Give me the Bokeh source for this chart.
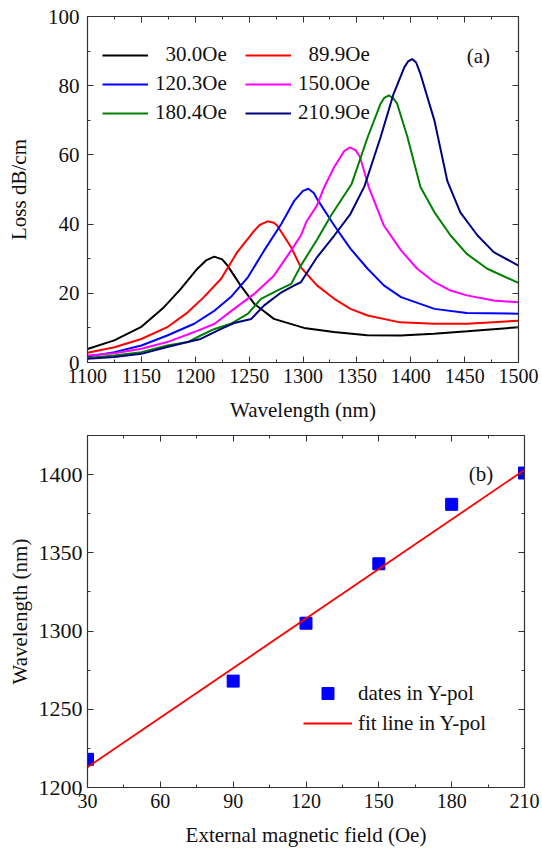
from bokeh.plotting import figure
from bokeh.models import (FixedTicker, LinearAxis, Legend, LegendItem, Label,
                          Range1d)
from bokeh.layouts import column
from bokeh.embed import file_html
from bokeh.resources import INLINE

FONT = "Liberation Serif"
AXC = "#333333"
TXT = "#111111"

# ---------------- Panel (a): loss spectra ----------------
wl_300 = [1100, 1124.8, 1149.5, 1171, 1186.6, 1202, 1210, 1217.6, 1225, 1230, 1242,
          1254.7, 1273, 1301, 1328.6, 1359.6, 1390.5, 1421.5, 1452.4, 1500]
loss_300 = [3.9, 6.4, 10.2, 16.0, 21.3, 27.1, 29.5, 30.6, 29.8, 28.0, 22.3,
            17.0, 12.6, 10.0, 8.8, 7.9, 7.8, 8.3, 9.0, 10.2]

wl_899 = [1100, 1125, 1150, 1174, 1193, 1208, 1224, 1239, 1255, 1260, 1267, 1273,
          1276, 1289, 1298, 1313, 1329, 1344, 1360, 1390, 1422, 1452, 1500]
loss_899 = [2.8, 4.4, 6.8, 10.2, 14.5, 18.9, 24.2, 31.9, 38.2, 39.8, 40.8, 40.4,
            39.6, 33.3, 27.5, 22.3, 18.4, 15.5, 13.6, 11.6, 11.2, 11.2, 12.1]

wl_1203 = [1100, 1125, 1150, 1174, 1199, 1218, 1233, 1249, 1264, 1280, 1292, 1300,
           1305, 1310, 1313, 1329, 1344, 1360, 1375, 1391, 1422, 1452, 1500]
loss_1203 = [1.7, 3.0, 4.9, 7.8, 11.2, 15.0, 18.9, 24.7, 32.4, 40.1, 46.8, 49.6,
             50.2, 49.0, 47.3, 39.6, 32.9, 27.1, 22.3, 18.9, 15.5, 14.3, 14.1]

wl_1500 = [1100, 1125, 1150, 1174, 1199, 1218, 1236, 1255, 1273, 1289, 1298, 1303,
           1313, 1319, 1329, 1338, 1343.5, 1349, 1353, 1361, 1375, 1391, 1406, 1422,
           1437, 1452, 1477, 1500]
loss_1500 = [2.0, 2.7, 4.0, 5.9, 8.8, 11.2, 15.5, 19.9, 25.1, 32.4, 36.7, 40.6,
             45.4, 50.2, 56.5, 61.0, 62.2, 61.3, 59.3, 50.7, 39.6, 32.4, 27.1, 23.2,
             20.8, 19.4, 17.9, 17.4]

wl_1804 = [1100, 1125, 1150, 1174, 1193, 1205, 1218, 1233, 1249, 1261, 1276, 1289,
           1298, 1313, 1326, 1345, 1360, 1372, 1375.5, 1379.7, 1384, 1387.4, 1397,
           1409, 1422, 1437, 1452, 1471, 1500]
loss_1804 = [1.3, 2.0, 3.0, 4.9, 5.9, 7.8, 9.7, 11.2, 14.1, 18.4, 20.8, 22.7,
             28.0, 35.5, 42.5, 51.5, 65.1, 74.8, 76.5, 77.2, 76.3, 74.8, 65.1,
             50.7, 43.4, 36.7, 31.4, 27.1, 23.0]

wl_2109 = [1100, 1125, 1150, 1174, 1193, 1205, 1224, 1236, 1252, 1264, 1280, 1292,
           1298, 1313, 1329, 1344, 1357, 1372, 1384, 1394, 1397.5, 1401.3, 1405,
           1409, 1422, 1434, 1446, 1462, 1477, 1500]
loss_2109 = [1.1, 1.6, 2.5, 4.5, 5.9, 6.8, 9.7, 11.4, 12.6, 16.5, 20.3, 22.3,
             23.2, 30.4, 36.7, 42.9, 50.9, 65.1, 77.6, 85.3, 87.0, 87.7, 86.7,
             83.4, 69.9, 52.4, 43.4, 36.7, 31.9, 28.0]

series_labels = ["\u200730.0Oe", "\u200789.9Oe", "120.3Oe", "150.0Oe", "180.4Oe", "210.9Oe"]
series_colors = ["#000000", "#ff0000", "#0000ff", "#ff00ff", "#008000", "#000080"]
series_x = [wl_300, wl_899, wl_1203, wl_1500, wl_1804, wl_2109]
series_y = [loss_300, loss_899, loss_1203, loss_1500, loss_1804, loss_2109]

a_xticks = [1100, 1150, 1200, 1250, 1300, 1350, 1400, 1450, 1500]
a_xminor = [1125, 1175, 1225, 1275, 1325, 1375, 1425, 1475]
a_yticks = [0, 20, 40, 60, 80, 100]
a_yminor = [10, 30, 50, 70, 90]

# ---------------- Panel (b): resonance wavelength vs field ----------------
field = [30, 90, 120, 150, 180, 210]
peak_wl = [1218, 1268, 1305, 1343, 1381, 1401]
fit_field = [30, 210]
fit_wl = [1213, 1403]

b_xticks = [30, 60, 90, 120, 150, 180, 210]
b_xminor = [45, 75, 105, 135, 165, 195]
b_yticks = [1200, 1250, 1300, 1350, 1400]
b_yminor = [1225, 1275, 1325, 1375, 1425]


def style_axis(ax, tick_fs="21px", label_standoff=6, axis_label_standoff=10):
    ax.major_tick_in = 6
    ax.major_tick_out = 0
    ax.minor_tick_in = 3
    ax.minor_tick_out = 0
    ax.axis_line_color = AXC
    ax.major_tick_line_color = AXC
    ax.minor_tick_line_color = AXC
    ax.axis_line_width = 1.2
    ax.major_label_text_font = FONT
    ax.major_label_text_font_size = tick_fs
    ax.major_label_text_color = TXT
    ax.major_label_standoff = label_standoff
    ax.axis_label_text_font = FONT
    ax.axis_label_text_font_size = "21px"
    ax.axis_label_text_font_style = "normal"
    ax.axis_label_text_color = TXT
    ax.axis_label_standoff = axis_label_standoff


def mirror_axis(p, side, ticks, minor):
    ax = LinearAxis(ticker=FixedTicker(ticks=ticks, minor_ticks=minor))
    style_axis(ax)
    ax.major_label_text_font_size = "1px"
    ax.major_label_text_color = None
    ax.major_label_standoff = 0
    p.add_layout(ax, side)


def base_fig(xr, yr, fw, fh, left, right, top, bottom):
    p = figure(frame_width=fw, frame_height=fh, x_range=xr, y_range=yr,
               output_backend="svg", toolbar_location=None,
               min_border_left=left, min_border_right=right,
               min_border_top=top, min_border_bottom=bottom)
    p.xgrid.visible = False
    p.ygrid.visible = False
    p.outline_line_color = None
    p.background_fill_color = "white"
    p.border_fill_color = "white"
    return p


# ---- panel (a)
p1 = base_fig(Range1d(1100, 1500), Range1d(0, 100), 431, 346, 87, 24, 16, 65)
p1.xaxis.ticker = FixedTicker(ticks=a_xticks, minor_ticks=a_xminor)
p1.yaxis.ticker = FixedTicker(ticks=a_yticks, minor_ticks=a_yminor)
p1.xaxis.axis_label = "Wavelength (nm)"
p1.yaxis.axis_label = "Loss dB/cm"
style_axis(p1.xaxis[0], tick_fs="20px", label_standoff=6, axis_label_standoff=12)
style_axis(p1.yaxis[0], label_standoff=8, axis_label_standoff=14)
mirror_axis(p1, "above", a_xticks, a_xminor)
mirror_axis(p1, "right", a_yticks, a_yminor)

renderers = []
for xs, ys, c in zip(series_x, series_y, series_colors):
    renderers.append(p1.line(xs, ys, line_color=c, line_width=2))


def make_legend(items, loc, spacing, glyph_width, glyph_height, standoff):
    lg = Legend(items=items, location=loc, orientation="vertical",
                label_text_font=FONT, label_text_font_size="21px",
                label_text_color=TXT, glyph_width=glyph_width, glyph_height=glyph_height,
                label_height=20, spacing=spacing, padding=0, margin=0,
                label_standoff=standoff, border_line_color=None,
                background_fill_alpha=0)
    return lg


leg_a1 = make_legend([LegendItem(label=series_labels[i], renderers=[renderers[i]]) for i in (0, 2, 4)],
                     (15, 237), 4, 46, 20, 7)
leg_a2 = make_legend([LegendItem(label=series_labels[i], renderers=[renderers[i]]) for i in (1, 3, 5)],
                     (158, 237), 4, 46, 20, 7)
p1.add_layout(leg_a1)
p1.add_layout(leg_a2)
p1.add_layout(Label(x=1452, y=88.7, text="(a)", text_font=FONT, text_font_size="21px",
                    text_color=TXT, text_baseline="middle", text_align="left"))

# ---- panel (b)
p2 = base_fig(Range1d(30, 210), Range1d(1200, 1425), 437, 352, 87, 18, 8, 67)
p2.xaxis.ticker = FixedTicker(ticks=b_xticks, minor_ticks=b_xminor)
p2.yaxis.ticker = FixedTicker(ticks=b_yticks, minor_ticks=b_yminor)
p2.xaxis.axis_label = "External magnetic field (Oe)"
p2.yaxis.axis_label = "Wavelength (nm)"
style_axis(p2.xaxis[0], tick_fs="20px", label_standoff=6, axis_label_standoff=12)
style_axis(p2.yaxis[0], tick_fs="22px", label_standoff=5, axis_label_standoff=4)
mirror_axis(p2, "above", b_xticks, b_xminor)
mirror_axis(p2, "right", b_yticks, b_yminor)

r_pts = p2.scatter(field, peak_wl, marker="square", size=12, fill_color="#0000ff",
                   line_color="#0000ff")
r_fit = p2.line(fit_field, fit_wl, line_color="#ff0000", line_width=1.8)
leg_b = make_legend([LegendItem(label="dates in Y-pol", renderers=[r_pts]),
                     LegendItem(label="fit line in Y-pol", renderers=[r_fit])],
                    (216, 49), 0, 49, 30, 6)
p2.add_layout(leg_b)
p2.add_layout(Label(x=187, y=1400.6, text="(b)", text_font=FONT, text_font_size="21px",
                    text_color=TXT, text_baseline="middle", text_align="left"))

layout = column(p1, p2)
open("out.html", "w").write(file_html(layout, INLINE))
